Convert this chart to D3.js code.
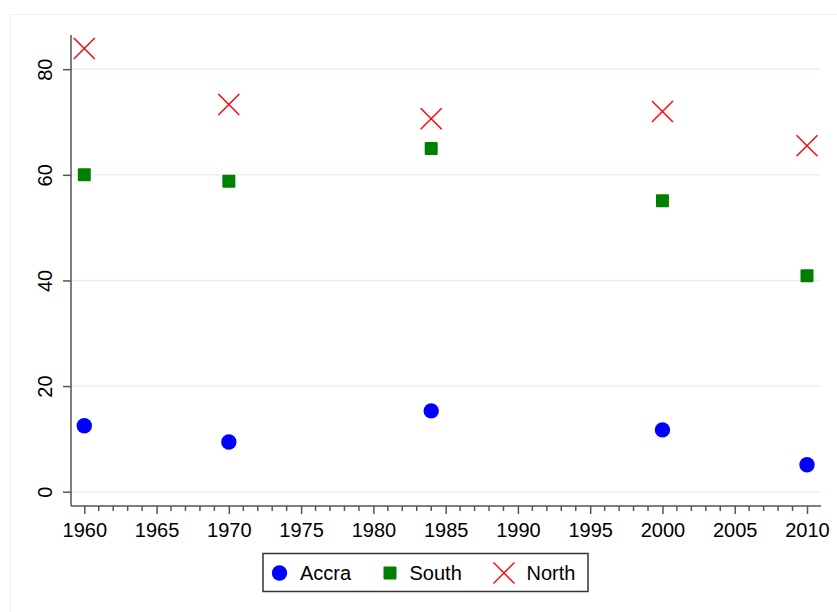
<!DOCTYPE html>
<html>
<head>
<meta charset="utf-8">
<script src="https://cdn.jsdelivr.net/npm/d3@7"></script>
<style>
  html, body { margin: 0; padding: 0; background: #fff; }
  svg { display: block; }
  text { font-family: "Liberation Sans", Arial, sans-serif; fill: #000; }
</style>
</head>
<body>
<svg id="chart" width="837" height="612"></svg>
<script>
const years = [1960, 1970, 1984, 2000, 2010];
const accra = [12.5, 9.4, 15.3, 11.7, 5.1];
const south = [60.0, 58.8, 65.0, 55.1, 40.9];
const north = [83.9, 73.3, 70.6, 72.0, 65.5];
const yTicks = [0, 20, 40, 60, 80];
const xMajorTicks = [1960, 1965, 1970, 1975, 1980, 1985, 1990, 1995, 2000, 2005, 2010];
const seriesNames = ["Accra", "South", "North"];
const seriesColors = ["#0000ff", "#008000", "#ff0000"];

const svg = d3.select("#chart");
const W = 837, H = 612;
const FS = 20;

// outer frame
svg.append("rect").attr("x", 10.5).attr("y", 14.5).attr("width", W).attr("height", H)
  .attr("fill", "#fff").attr("stroke", "#eaf0f0").attr("stroke-width", 1);

const plot = { left: 71, right: 821, top: 35, bottom: 506 };

const x = d3.scaleLinear().domain([1960, 2010]).range([84.3, 807]);
const y = d3.scaleLinear().domain([0, 80]).range([491.7, 69.2]);

// gridlines
svg.append("g").selectAll("line").data(yTicks).join("line")
  .attr("x1", plot.left).attr("x2", plot.right)
  .attr("y1", d => y(d)).attr("y2", d => y(d))
  .attr("stroke", "#eaf0f2").attr("stroke-width", 1.5);

// y axis
const yAxis = d3.axisLeft(y).tickValues(yTicks).tickSize(8).tickPadding(10);
const gy = svg.append("g").attr("transform", `translate(${plot.left},0)`).call(yAxis);
gy.select(".domain").remove();
gy.append("line").attr("x1", 0).attr("x2", 0).attr("y1", plot.top).attr("y2", plot.bottom)
  .attr("stroke", "#555").attr("stroke-width", 1.5);
gy.selectAll(".tick line").attr("stroke", "#555").attr("stroke-width", 1.5);
gy.selectAll(".tick text")
  .style("font-size", FS + "px")
  .attr("x", null).attr("dy", null)
  .attr("text-anchor", "middle")
  .attr("dominant-baseline", "central")
  .attr("transform", "translate(-26,0) rotate(-90)");

// x axis (major)
const xAxis = d3.axisBottom(x).tickValues(xMajorTicks).tickFormat(d3.format("d")).tickSize(8).tickPadding(9);
const gx = svg.append("g").attr("transform", `translate(0,${plot.bottom})`).call(xAxis);
gx.select(".domain").remove();
gx.append("line").attr("x1", plot.left).attr("x2", plot.right).attr("y1", 0).attr("y2", 0)
  .attr("stroke", "#555").attr("stroke-width", 1.5);
gx.selectAll(".tick line").attr("stroke", "#555").attr("stroke-width", 1.5);
gx.selectAll(".tick text").style("font-size", FS + "px");

// minor ticks
const minor = d3.range(1960, 2011).filter(v => v % 5 !== 0);
svg.append("g").selectAll("line").data(minor).join("line")
  .attr("x1", d => x(d)).attr("x2", d => x(d))
  .attr("y1", plot.bottom).attr("y2", plot.bottom + 5)
  .attr("stroke", "#555").attr("stroke-width", 1.5);

// markers
const pts = svg.append("g");
pts.selectAll("circle").data(years.map((yr, i) => ({ yr, v: accra[i] }))).join("circle")
  .attr("cx", d => x(d.yr)).attr("cy", d => y(d.v)).attr("r", 7.7)
  .attr("fill", seriesColors[0]);

const sq = 13;
pts.selectAll("rect").data(years.map((yr, i) => ({ yr, v: south[i] }))).join("rect")
  .attr("x", d => x(d.yr) - sq / 2).attr("y", d => y(d.v) - sq / 2)
  .attr("width", sq).attr("height", sq).attr("rx", 1)
  .attr("fill", seriesColors[1]);

const xs = 10.5;
const crossPath = `M${-xs},${-xs}L${xs},${xs}M${-xs},${xs}L${xs},${-xs}`;
pts.selectAll("path").data(years.map((yr, i) => ({ yr, v: north[i] }))).join("path")
  .attr("transform", d => `translate(${x(d.yr)},${y(d.v)})`)
  .attr("d", crossPath)
  .attr("stroke", seriesColors[2]).attr("stroke-width", 1.4).attr("fill", "none");

// legend
const lg = svg.append("g");
lg.append("rect").attr("x", 263).attr("y", 553.5).attr("width", 325).attr("height", 38)
  .attr("fill", "#fff").attr("stroke", "#333").attr("stroke-width", 1.5);
const ly = 573;
lg.append("circle").attr("cx", 279.5).attr("cy", ly).attr("r", 7.7).attr("fill", seriesColors[0]);
lg.append("rect").attr("x", 390 - 6.5).attr("y", ly - 6.5).attr("width", 13).attr("height", 13).attr("rx", 1).attr("fill", seriesColors[1]);
lg.append("path").attr("transform", `translate(504,${ly})`).attr("d", crossPath)
  .attr("stroke", seriesColors[2]).attr("stroke-width", 1.4).attr("fill", "none");
const labelX = [300, 409.5, 526.5];
seriesNames.forEach((n, i) => {
  lg.append("text").attr("x", labelX[i]).attr("y", ly).attr("dominant-baseline", "central")
    .style("font-size", FS + "px").text(n);
});
</script>
</body>
</html>
